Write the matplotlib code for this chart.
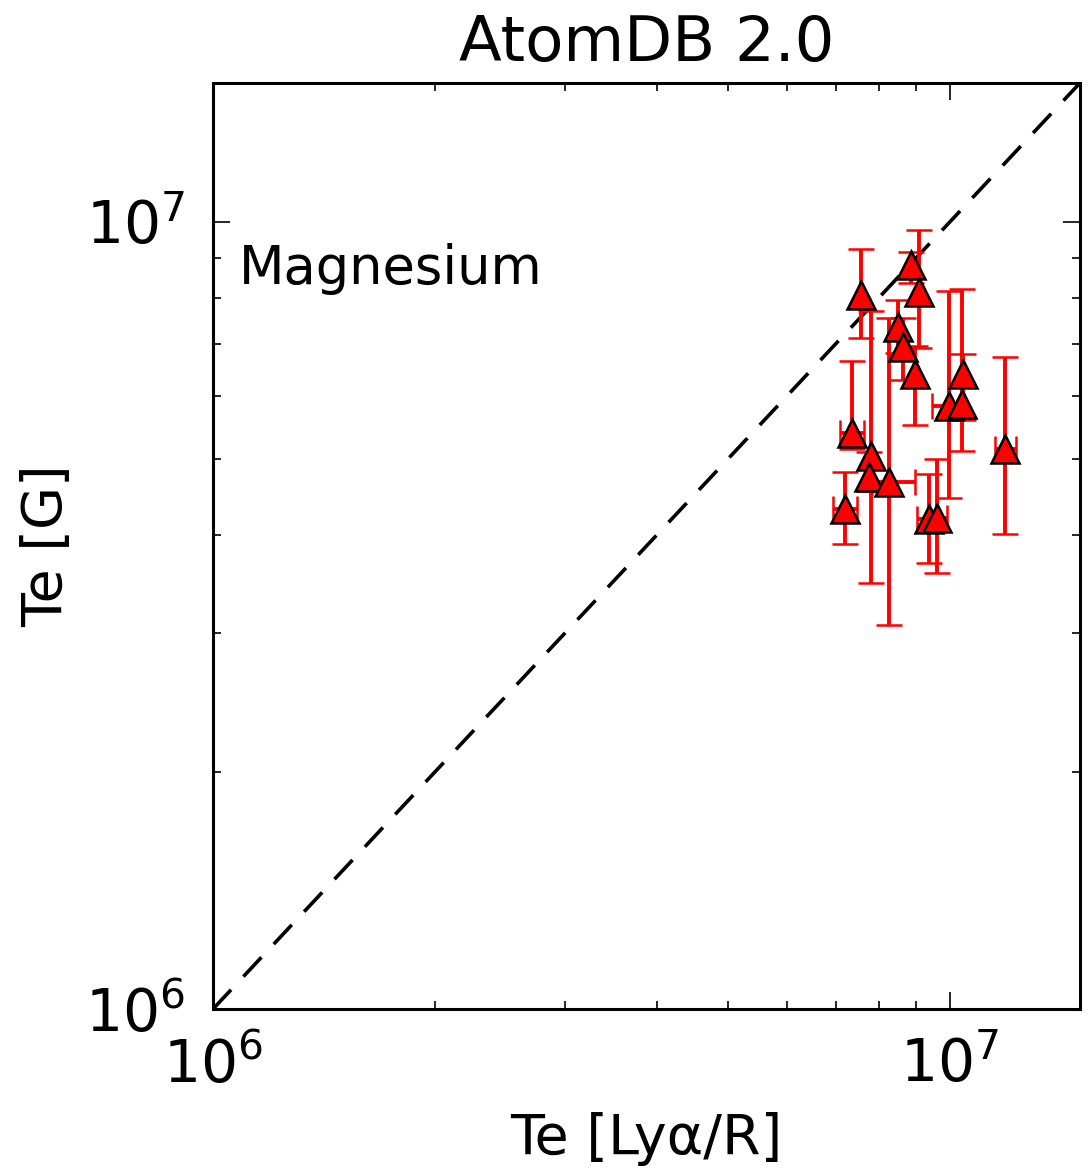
import numpy as np
import matplotlib
matplotlib.use('Agg')
import matplotlib.pyplot as plt

# Te from Ly-alpha/R ratio (x) and G ratio (y), Kelvin
te_lya = np.array([7.58, 8.85, 9.07, 8.49, 8.63, 8.95, 10.40, 9.95, 10.38,
                   7.36, 7.81, 7.76, 8.27, 11.86, 7.20, 9.35, 9.59]) * 1e6
te_lya_lo = np.array([7.58, 8.85, 9.07, 8.49, 8.63, 8.95, 10.40, 9.44, 10.38,
                      7.09, 7.81, 7.76, 7.83, 11.49, 6.93, 9.01, 9.59]) * 1e6
te_lya_hi = np.array([7.58, 8.85, 9.07, 8.49, 8.63, 8.95, 10.40, 10.45, 10.38,
                      7.64, 7.81, 7.76, 8.96, 12.27, 7.47, 9.35, 9.89]) * 1e6

te_g = np.array([8.08, 8.80, 8.13, 7.34, 6.94, 6.40, 6.40, 5.83, 5.86,
                 5.39, 5.04, 4.74, 4.67, 5.14, 4.31, 4.19, 4.20]) * 1e6
te_g_lo = np.array([7.11, 8.35, 6.90, 6.80, 6.30, 5.52, 5.60, 4.45, 5.12,
                    5.14, 3.48, 4.55, 3.07, 4.01, 3.90, 3.69, 3.58]) * 1e6
te_g_hi = np.array([9.24, 9.16, 9.77, 7.95, 7.54, 6.95, 6.78, 8.17, 8.22,
                    6.65, 7.69, 5.10, 7.54, 6.74, 4.81, 4.78, 4.99]) * 1e6

lim = [1e6, 1.5e7]

plt.rcParams['font.family'] = 'DejaVu Sans'
plt.rcParams['lines.scale_dashes'] = False

fig = plt.figure(figsize=(10.89, 11.7), dpi=100)
ax = fig.add_axes([0.1956, 0.1376, 0.7961, 0.7915])

ax.plot(lim, lim, color='black', lw=2.6, dashes=(19, 13))

ax.errorbar(te_lya, te_g,
            xerr=[te_lya - te_lya_lo, te_lya_hi - te_lya],
            yerr=[te_g - te_g_lo, te_g_hi - te_g],
            fmt='^', ms=20, mfc='red', mec='black', mew=1.8,
            ecolor='red', elinewidth=2.8, capsize=9.5, capthick=2.8, zorder=3)

ax.set_xscale('log')
ax.set_yscale('log')
ax.set_xlim(lim)
ax.set_ylim(lim)

for s in ax.spines.values():
    s.set_linewidth(2.2)
ax.tick_params(which='both', direction='in', top=True, right=True, labelsize=42, width=1.2)
ax.tick_params(which='major', length=12, pad=20)
ax.tick_params(which='minor', length=6, labelbottom=False, labelleft=False)

ax.set_title('AtomDB 2.0', fontsize=45, pad=16)
ax.set_xlabel('Te [Lyα/R]', fontsize=40, labelpad=12)
ax.set_ylabel('Te [G]', fontsize=40, labelpad=8)
ax.text(0.03, 0.783, 'Magnesium', transform=ax.transAxes, fontsize=38)

fig.savefig('out.png', dpi=100)
